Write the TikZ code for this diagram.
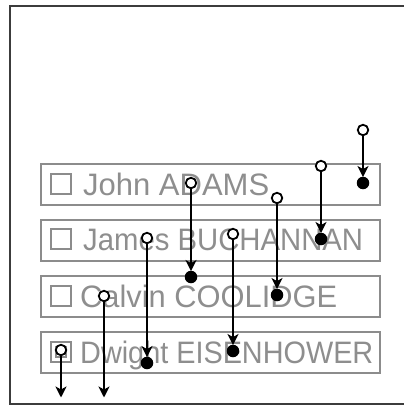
\documentclass[tikz,border=0pt]{standalone}
\usepackage{graphicx}
\usepackage{fontspec}
\setmainfont{Liberation Sans}
\usetikzlibrary{arrows.meta}
\definecolor{rowgray}{HTML}{8C8C8C}
\definecolor{txtgray}{HTML}{8E8E8E}
\definecolor{framegray}{HTML}{3C3C3C}
\tikzset{
  rowbox/.style={draw=rowgray, line width=1.8pt, minimum width=339pt, minimum height=41pt, inner sep=0pt, anchor=north west},
  rowtext/.style={text=txtgray, font=\fontsize{31}{31}\selectfont, anchor=base west, inner sep=0pt},
  chk/.style={draw=rowgray, line width=1.6pt, minimum width=20pt, minimum height=20pt, inner sep=0pt},
  src/.style={circle, draw=black, fill=white, line width=1.8pt, minimum size=10.5pt, inner sep=0pt},
  dst/.style={circle, fill=black, minimum size=12.5pt, inner sep=0pt},
  link/.style={line width=2pt, -{Stealth[length=11pt,width=11pt,inset=3pt]}, shorten >=-0.5pt},
}
\begin{document}
\begin{tikzpicture}[x=1pt,y=-1pt]
\useasboundingbox (0,0) rectangle (404,407);
\fill[white] (0,0) rectangle (404,407);
% outer frame (right side lies beyond the picture)
\draw[framegray, line width=2.6pt] (404,6) -- (10,6) -- (10,404) -- (404,404);
% rows
\node[rowbox] (r1) at (40,163) {};
\node[rowbox] (r2) at (40,219) {};
\node[rowbox] (r3) at (40,275) {};
\node[rowbox] (r4) at (40,331) {};
\node[chk] (c1) at (61,184) {};
\node[chk] (c2) at (61,239) {};
\node[chk] (c3) at (61,296) {};
\node[chk] (c4) at (61,352) {};
\draw[rowgray, line width=1.4pt] (56,347) rectangle (66,357);
\node[rowtext] (t1) at (83,195) {\scalebox{1.0}[1]{John ADAMS}};
\node[rowtext] (t2) at (83,250) {\scalebox{0.945}[1]{James BUCHANNAN}};
\node[rowtext] (t3) at (80,307) {\scalebox{0.995}[1]{Calvin COOLIDGE}};
\node[rowtext] (t4) at (80,363) {\scalebox{0.93}[1]{Dwight EISENHOWER}};
% arrows
\node[src] (s1) at (363,130) {};  \node[dst] (d1) at (363,183) {};
\node[src] (s2) at (321,166) {};  \node[dst] (d2) at (321,239) {};
\node[src] (s3) at (191,183) {};  \node[dst] (d3) at (191,277) {};
\node[src] (s4) at (277,198) {};  \node[dst] (d4) at (277,295) {};
\node[src] (s5) at (147,238) {};  \node[dst] (d5) at (147,363) {};
\node[src] (s6) at (233,234) {};  \node[dst] (d6) at (233,351) {};
\node[src] (s7) at (104,296) {};  \coordinate (e7) at (104,397);
\node[src] (s8) at (61,350) {};   \coordinate (e8) at (61,397);
\draw[link] (s1) -- (d1);
\draw[link] (s2) -- (d2);
\draw[link] (s3) -- (d3);
\draw[link] (s4) -- (d4);
\draw[link] (s5) -- (d5);
\draw[link] (s6) -- (d6);
\draw[link] (s7) -- (e7);
\draw[link] (s8) -- (e8);
\end{tikzpicture}
\end{document}
